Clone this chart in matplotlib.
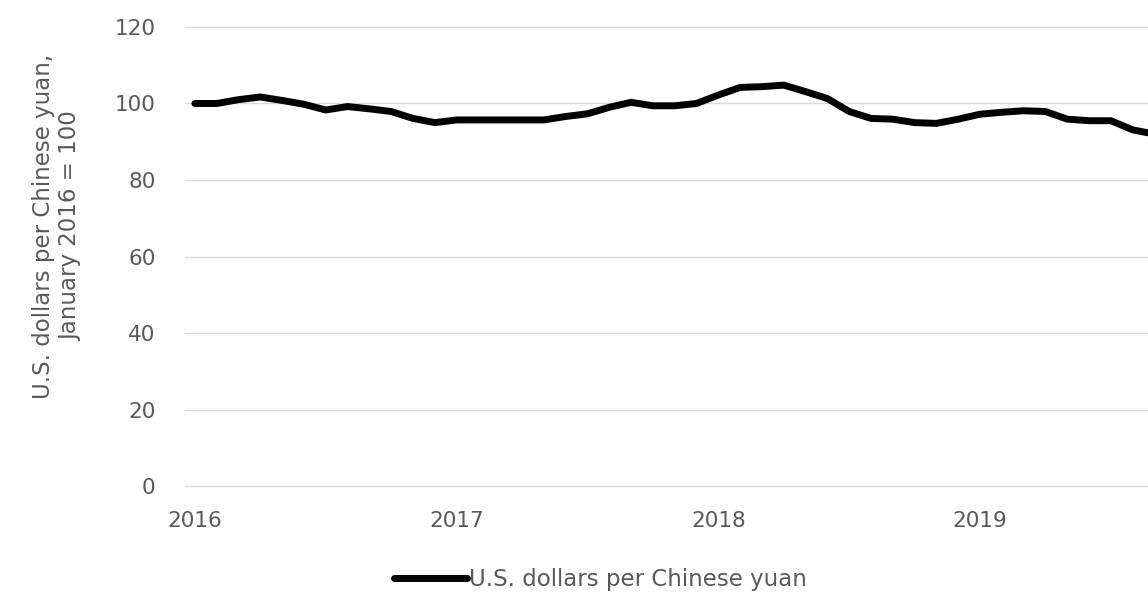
import matplotlib.pyplot as plt

# monthly index, January 2016 = 100
months = list(range(45))
values = [100.0, 100.0, 101.0, 101.7, 100.8, 99.8, 98.3, 99.2, 98.6, 97.9,
          96.1, 95.0, 95.7, 95.7, 95.7, 95.7, 95.7, 96.6, 97.3, 99.0,
          100.3, 99.4, 99.4, 100.0, 102.2, 104.2, 104.4, 104.8, 103.1, 101.3,
          97.9, 96.1, 95.9, 95.0, 94.8, 95.9, 97.2, 97.7, 98.1, 97.9,
          95.9, 95.5, 95.5, 93.1, 92.0]
year_ticks = [0, 12, 24, 36]
year_labels = ['2016', '2017', '2018', '2019']
y_ticks = [0, 20, 40, 60, 80, 100, 120]
series_name = 'U.S. dollars per Chinese yuan'

plt.rcParams['font.family'] = ['DejaVu Sans']
grey = '#595959'

fig = plt.figure(figsize=(11.48, 5.93), dpi=100)
ax = fig.add_axes([0.161, 0.1804, 0.839, 0.7741])

ax.plot(months, values, color='black', lw=5, solid_joinstyle='round',
        solid_capstyle='round', label=series_name)

ax.set_xlim(-0.46, 43.7)
ax.set_ylim(0, 120)
ax.set_yticks(y_ticks)
ax.set_xticks(year_ticks)
ax.set_xticklabels(year_labels)
ax.grid(axis='y', color='#d9d9d9', lw=1)
for gl in ax.get_ygridlines():
    gl.set_clip_on(False)
ax.set_axisbelow(True)
for s in ax.spines.values():
    s.set_visible(False)
ax.tick_params(length=0, labelsize=15.5, labelcolor=grey)
ax.tick_params(axis='y', pad=21)
ax.tick_params(axis='x', pad=18)

ax.set_ylabel('U.S. dollars per Chinese yuan,\nJanuary 2016 = 100',
              fontsize=16.5, color=grey, linespacing=1.2)
ax.yaxis.set_label_coords(-0.107, 0.566)

fig.legend(loc='center', bbox_to_anchor=(0.523, 0.022), frameon=False,
           fontsize=16.5, labelcolor=grey, handlelength=3.2, handletextpad=0.1)

fig.savefig('out.png', dpi=100)
